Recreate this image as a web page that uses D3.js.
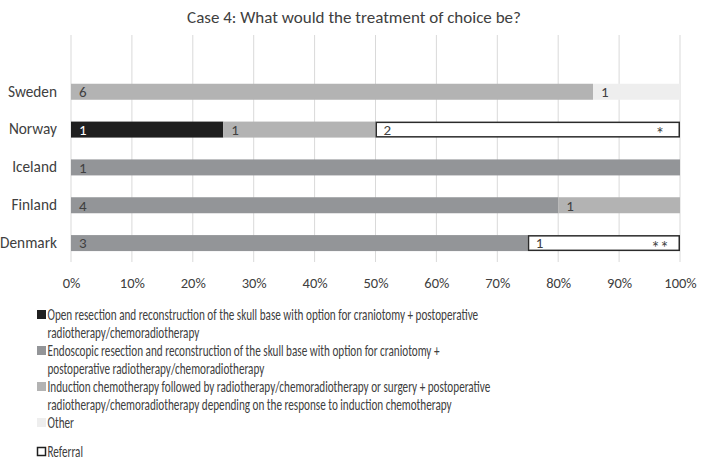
<!DOCTYPE html>
<html><head><meta charset="utf-8">
<script src="https://cdn.jsdelivr.net/npm/d3@7"></script>
<style>
body{margin:0;background:#fff;}
text{font-family:Carlito,"DejaVu Sans Condensed","Liberation Sans Narrow","Open Sans",sans-serif;}
</style></head><body>
<svg id="c" width="708" height="462"></svg>
<script>
const title = "Case 4: What would the treatment of choice be?";
const countries = ["", "Sweden", "Norway", "Iceland", "Finland", "Denmark"];
const seriesNames = ["Open", "Endoscopic", "Induction", "Other", "Referral"];
const openVals       = [0, 0, 1, 0, 0, 0];
const endoscopicVals = [0, 0, 0, 1, 4, 3];
const inductionVals  = [0, 6, 1, 0, 1, 0];
const otherVals      = [0, 1, 0, 0, 0, 0];
const referralVals   = [0, 0, 2, 0, 0, 1];
const referralNotes  = ["", "", "*", "", "", "**"];
const tickVals = [0,0.1,0.2,0.3,0.4,0.5,0.6,0.7,0.8,0.9,1];
const legendItems = [
  ["Open resection and reconstruction of the skull base with option for craniotomy + postoperative", "radiotherapy/chemoradiotherapy"],
  ["Endoscopic resection and reconstruction of the skull base with option for craniotomy +", "postoperative radiotherapy/chemoradiotherapy"],
  ["Induction chemotherapy followed by radiotherapy/chemoradiotherapy or surgery + postoperative", "radiotherapy/chemoradiotherapy depending on the response to induction chemotherapy"],
  ["Other"],
  ["Referral"]
];
const colors = {Open:"#1f1f1f", Endoscopic:"#939598", Induction:"#b3b3b3", Other:"#eeeeee", Referral:"#ffffff"};

const svg = d3.select("#c");
const rows = countries.map((c,i)=>({country:c, Open:openVals[i], Endoscopic:endoscopicVals[i], Induction:inductionVals[i], Other:otherVals[i], Referral:referralVals[i], note:referralNotes[i]}));
rows.forEach(r=>{ const t=seriesNames.reduce((s,k)=>s+r[k],0); seriesNames.forEach(k=>r["p_"+k]= t? r[k]/t : 0); });

const x = d3.scaleLinear().domain([0,1]).range([71,680]);
const y = d3.scaleBand().domain(countries).range([35,262]).paddingInner(0.6).paddingOuter(0.3);

svg.append("text").attr("x",354).attr("y",23).attr("text-anchor","middle")
  .attr("font-size",17).attr("fill","#404040").text(title);

// grid
svg.append("g").selectAll("line").data(tickVals).join("line")
  .attr("x1",d=>x(d)).attr("x2",d=>x(d)).attr("y1",35).attr("y2",262)
  .attr("stroke","#d9d9d9").attr("stroke-width",1);

// x axis labels
const xAxis = d3.axisBottom(x).tickValues(tickVals).tickFormat(d3.format(".0%")).tickSize(0).tickPadding(0);
const gx = svg.append("g").attr("transform","translate(0,278)").call(xAxis);
gx.select(".domain").remove();
gx.selectAll("text").attr("font-size",14.5).attr("fill","#404040").attr("font-family",null);

// y labels
const yAxis = d3.axisLeft(y).tickSize(0).tickPadding(0);
const gy = svg.append("g").attr("transform","translate(57,0)").call(yAxis);
gy.select(".domain").remove();
gy.selectAll("text").attr("font-size",15.3).attr("fill","#404040").attr("font-family",null);

const stack = d3.stack().keys(seriesNames.map(k=>"p_"+k));
const stacked = stack(rows);
const bh = 16;
stacked.forEach((layer,li)=>{
  const key = seriesNames[li];
  const g = svg.append("g");
  layer.forEach((seg,i)=>{
    const r = rows[i];
    if(!r[key]) return;
    const yy = y(r.country) + y.bandwidth()/2 - bh/2;
    const isRef = key==="Referral";
    g.append("rect").attr("x",x(seg[0])+(isRef?0.75:0)).attr("y",yy+(isRef?0.75:0))
      .attr("width",x(seg[1])-x(seg[0])-(isRef?1.5:0)).attr("height",bh-(isRef?1.5:0))
      .attr("fill",colors[key]).attr("stroke",isRef?"#2b2b2b":"none").attr("stroke-width",isRef?1.5:0);
    g.append("text").attr("x",x(seg[0])+8).attr("y",yy+bh/2).attr("dy","0.35em")
      .attr("font-size",15).attr("fill",key==="Open"?"#ffffff":"#404040").text(r[key]);
    if(isRef && r.note){
      g.append("text").attr("x",x(seg[1])-20).attr("y",yy+bh/2).attr("dy","0.6em").attr("text-anchor","middle")
        .attr("font-size",18).attr("fill","#404040").text(r.note);
    }
  });
});

// legend
const lg = svg.append("g");
const lineYs = [[320,338],[356,374],[392,410],[428],[457]];
const texts = [];
legendItems.forEach((lines,i)=>{
  const key = seriesNames[i];
  const ly = lineYs[i];
  const isRef = key==="Referral";
  lg.append("rect").attr("x",isRef?37.5:37).attr("y",ly[0]-10+(isRef?0.5:0)).attr("width",isRef?8:9).attr("height",isRef?8:9)
    .attr("fill",colors[key]).attr("stroke",isRef?"#1f1f1f":"none").attr("stroke-width",isRef?1.5:0);
  lines.forEach((t,j)=>{
    texts.push({node: lg.append("text").attr("x",0).attr("y",0).attr("font-size",15.5).attr("fill","#404040").text(t), y: ly[j]});
  });
});
const w0 = texts[0].node.node().getComputedTextLength();
const s = 431 / w0;
texts.forEach(t=>t.node.attr("transform",`translate(47.5,${t.y}) scale(${s},1)`));
</script></body></html>
